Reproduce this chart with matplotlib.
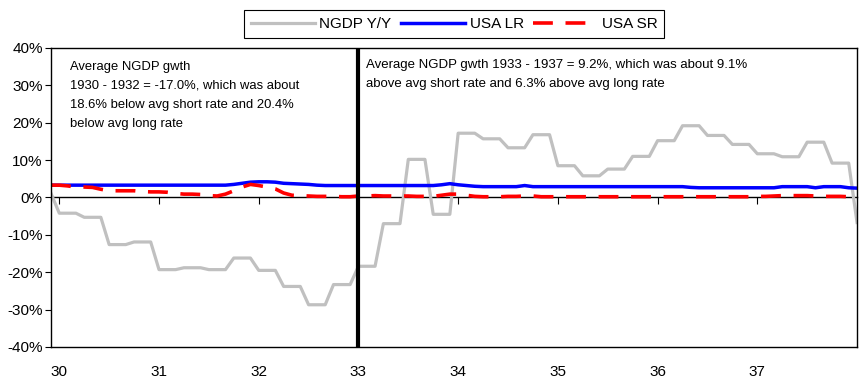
import numpy as np
import pandas as pd
import matplotlib
matplotlib.use("Agg")
import matplotlib.pyplot as plt
from matplotlib.ticker import FuncFormatter

# monthly points, Dec 1929 .. Jan 1938
months = pd.date_range("1929-12-01", "1938-01-01", freq="MS")

ngdp = [
    1.1,
    -4.2, -4.2, -4.2, -5.3, -5.3, -5.3, -12.6, -12.6, -12.6, -11.9, -11.9, -11.9,
    -19.3, -19.3, -19.3, -18.8, -18.8, -18.8, -19.3, -19.3, -19.3, -16.2, -16.2, -16.2,
    -19.5, -19.5, -19.5, -23.8, -23.8, -23.8, -28.7, -28.7, -28.7, -23.3, -23.3, -23.3,
    -18.4, -18.4, -18.4, -7.0, -7.0, -7.0, 10.2, 10.2, 10.2, -4.5, -4.5, -4.5,
    17.2, 17.2, 17.2, 15.7, 15.7, 15.7, 13.3, 13.3, 13.3, 16.8, 16.8, 16.8,
    8.5, 8.5, 8.5, 5.8, 5.8, 5.8, 7.6, 7.6, 7.6, 11.0, 11.0, 11.0,
    15.2, 15.2, 15.2, 19.2, 19.2, 19.2, 16.6, 16.6, 16.6, 14.2, 14.2, 14.2,
    11.7, 11.7, 11.7, 10.9, 10.9, 10.9, 14.8, 14.8, 14.8, 9.2, 9.2, 9.2,
    -6.7,
]

usa_lr = [
    3.3, 3.3, 3.3, 3.3, 3.3, 3.3, 3.3, 3.3, 3.3, 3.3, 3.3,
    3.3, 3.3, 3.3, 3.3, 3.3, 3.3, 3.3, 3.3, 3.3, 3.3, 3.3,
    3.5, 3.8, 4.1, 4.2, 4.2, 4.1, 3.8, 3.7, 3.6, 3.5, 3.3,
    3.2, 3.2, 3.2, 3.2, 3.2, 3.2, 3.2, 3.2, 3.2, 3.2, 3.2, 3.2, 3.2, 3.2,
    3.4, 3.7, 3.4, 3.2, 3.0,
    2.9, 2.9, 2.9, 2.9, 2.9,
    3.2,
    2.9, 2.9, 2.9, 2.9, 2.9, 2.9, 2.9, 2.9, 2.9, 2.9,
    2.9, 2.9, 2.9, 2.9, 2.9, 2.9, 2.9, 2.9, 2.9,
    2.7,
    2.6, 2.6, 2.6, 2.6, 2.6, 2.6, 2.6, 2.6, 2.6, 2.6,
    2.9, 2.9, 2.9, 2.9,
    2.6,
    2.9, 2.9, 2.9,
    2.6, 2.5,
]

usa_sr = [
    3.3, 3.3, 3.1, 2.8, 2.8, 2.7, 2.2, 1.8, 1.8, 1.8, 1.8, 1.6,
    1.5, 1.5, 1.4, 1.1, 0.9, 0.9, 0.8, 0.5, 0.4, 0.9, 1.8, 2.8,
    3.5, 3.2, 2.8, 2.3, 1.2, 0.6, 0.5, 0.4, 0.3, 0.3, 0.3, 0.2,
    0.2, 0.4, 0.4, 0.5, 0.4, 0.4, 0.4, 0.4, 0.3, 0.3, 0.3, 0.6,
    0.9, 0.9, 0.6, 0.3, 0.2, 0.2, 0.2, 0.3, 0.3, 0.4, 0.4, 0.2,
    0.2, 0.2, 0.2, 0.2, 0.2, 0.2, 0.2, 0.2, 0.2, 0.2, 0.2, 0.2,
    0.2, 0.2, 0.2, 0.2, 0.2, 0.2, 0.2, 0.2, 0.2, 0.2, 0.2, 0.2,
    0.2, 0.3, 0.3, 0.4, 0.5, 0.5, 0.5, 0.5, 0.4, 0.3, 0.3, 0.3,
    0.2, 0.2,
]

years = [1930, 1931, 1932, 1933, 1934, 1935, 1936, 1937]
year_labels = ["30", "31", "32", "33", "34", "35", "36", "37"]
break_year = 1933

left_note = ("Average NGDP gwth\n1930 - 1932 = -17.0%, which was about\n"
             "18.6% below avg short rate and 20.4%\nbelow avg long rate")
right_note = ("Average NGDP gwth 1933 - 1937 = 9.2%, which was about 9.1%\n"
              "above avg short rate and 6.3% above avg long rate")

plt.rcParams["font.family"] = ["Liberation Sans", "DejaVu Sans"]
plt.rcParams["font.size"] = 11

x = months.year + (months.month - 1) / 12.0

fig = plt.figure(figsize=(8.67, 3.88), dpi=100)
ax = fig.add_axes([0.0588, 0.1057, 0.9297, 0.7706])

ax.plot(x, ngdp, color="#C0C0C0", lw=2.3, label="NGDP Y/Y")
ax.plot(x, usa_lr, color="#0000FF", lw=2.5, label="USA LR")
ax.plot(x, usa_sr, color="#FF0000", lw=2.6, dashes=(5.5, 3.5), label="USA SR")
ax.axvline(break_year, color="black", lw=3)

ax.set_xlim(x[0], x[-1])
ax.set_ylim(-40, 40)
ax.set_yticks(np.arange(-40, 41, 10))
ax.yaxis.set_major_formatter(FuncFormatter(lambda v, p: f"{v:.0f}%"))
ax.tick_params(axis="y", direction="out", length=4, width=0.8, pad=2)

ax.set_xticks(years)
ax.set_xticklabels(year_labels)
ax.tick_params(axis="x", length=0, pad=13)

for s in ax.spines.values():
    s.set_linewidth(1.0)

# zero line carries the year tick marks
zero = ax.secondary_xaxis(0.5)
zero.set_xticks(years)
zero.set_xticklabels([])
zero.tick_params(direction="in", length=5, width=0.8)
for s in zero.spines.values():
    s.set_linewidth(1.0)

ax.text(0.0236, 0.958, left_note, transform=ax.transAxes, va="top",
        fontsize=9.4, linespacing=1.8)
ax.text(0.391, 0.962, right_note, transform=ax.transAxes, va="top",
        fontsize=9.5, linespacing=1.75)

leg = ax.legend(loc="lower center", bbox_to_anchor=(0.5, 1.033), ncol=3,
                fancybox=False, edgecolor="black", framealpha=1,
                handlelength=4.2, handletextpad=0.3, columnspacing=0.6,
                borderpad=0.45, borderaxespad=0)
leg.get_frame().set_linewidth(0.8)

fig.savefig("out.png", dpi=100)
